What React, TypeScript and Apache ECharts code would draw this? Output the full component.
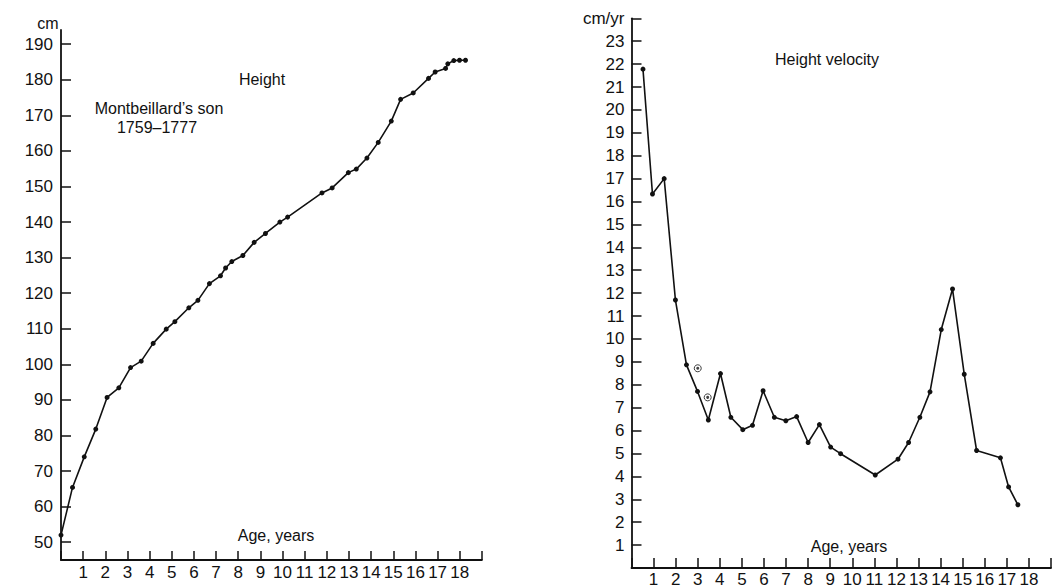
import React, { useEffect, useRef } from "react";
import * as echarts from "echarts";

const heightAges = [0, 0.52, 1.05, 1.57, 2.08, 2.61, 3.14, 3.62, 4.16, 4.75, 5.14, 5.77, 6.18, 6.7, 7.2, 7.43, 7.71, 8.21, 8.72, 9.23, 9.88, 10.23, 11.78, 12.24, 12.97, 13.33, 13.81, 14.32, 14.91, 15.33, 15.9, 16.59, 16.89, 17.36, 17.46, 17.73, 17.99, 18.26];
const heightValues = [52.0, 65.4, 74.0, 81.8, 90.7, 93.4, 99.1, 100.9, 105.9, 109.9, 112.0, 115.9, 118.0, 122.7, 124.9, 127.1, 128.9, 130.6, 134.3, 136.8, 140.0, 141.4, 148.2, 149.6, 153.9, 154.9, 158.0, 162.4, 168.4, 174.5, 176.3, 180.4, 182.2, 183.2, 184.5, 185.4, 185.5, 185.5];

const velocityAges = [0.52, 0.95, 1.48, 1.99, 2.49, 2.99, 3.48, 4.03, 4.5, 5.04, 5.48, 5.96, 6.47, 6.99, 7.48, 8.0, 8.51, 9.02, 9.47, 11.04, 12.07, 12.55, 13.06, 13.52, 14.03, 14.54, 15.07, 15.63, 16.71, 17.08, 17.5];
const velocityValues = [21.78, 16.33, 17.0, 11.7, 8.87, 7.71, 6.46, 8.49, 6.58, 6.04, 6.23, 7.74, 6.58, 6.43, 6.61, 5.48, 6.26, 5.28, 4.99, 4.06, 4.75, 5.48, 6.58, 7.69, 10.41, 12.18, 8.46, 5.13, 4.81, 3.54, 2.76];

const extraVelocityAges = [3.0, 3.45];
const extraVelocityValues = [8.72, 7.45];

const heightTicks = [50, 60, 70, 80, 90, 100, 110, 120, 130, 140, 150, 160, 170, 180, 190];

const FONT = "Liberation Sans, Arial, sans-serif";
const INK = "#111111";

export default function App() {
  const ref = useRef<HTMLDivElement>(null);
  useEffect(() => {
    if (!ref.current) return;
    const chart = echarts.init(ref.current, undefined, { renderer: "svg" });
    const axisLine = { show: true, onZero: false, lineStyle: { color: INK, width: 1.8 } };
    const labelStyle = { color: INK, fontSize: 17, fontFamily: FONT };
    const textStyle = (x: number, y: number, text: string, size = 15) => ({
      type: "text",
      x,
      y,
      style: { text, fill: INK, font: `${size}px ${FONT}`, textAlign: "center", textVerticalAlign: "middle" },
    });
    chart.setOption({
      animation: false,
      backgroundColor: "#ffffff",
      grid: [
        { left: 61, top: 30, width: 420.9, height: 530 },
        { left: 631.5, top: 18.3, width: 420, height: 553.2 },
      ],
      xAxis: [
        {
          gridIndex: 0, type: "value", min: 0, max: 19, interval: 1,
          axisLine,
          axisTick: { show: true, inside: true, length: 9, lineStyle: { color: INK, width: 1.5 } },
          axisLabel: { ...labelStyle, margin: 4, formatter: (v: number) => (v === 0 || v === 19 ? "" : String(v)) },
          splitLine: { show: false },
        },
        {
          gridIndex: 1, type: "value", min: 0, max: 19, interval: 1,
          axisLine,
          axisTick: { show: true, inside: true, length: 10, lineStyle: { color: INK, width: 1.5 } },
          axisLabel: { ...labelStyle, margin: 3, formatter: (v: number) => (v === 0 || v === 19 ? "" : String(v)) },
          splitLine: { show: false },
        },
      ],
      yAxis: [
        {
          gridIndex: 0, type: "value", min: 45, max: 194,
          axisLine,
          axisTick: { show: true, inside: true, length: 10, customValues: heightTicks, lineStyle: { color: INK, width: 1.5 } },
          axisLabel: { ...labelStyle, margin: 8, customValues: heightTicks },
          splitLine: { show: false },
        },
        {
          gridIndex: 1, type: "value", min: 0, max: 24, interval: 1,
          axisLine,
          axisTick: { show: true, inside: true, length: 10, lineStyle: { color: INK, width: 1.5 } },
          axisLabel: { ...labelStyle, margin: 7, formatter: (v: number) => (v === 0 ? "" : v === 24 ? "cm/yr" : String(v)) },
          splitLine: { show: false },
        },
      ],
      series: [
        {
          type: "line", xAxisIndex: 0, yAxisIndex: 0,
          data: heightAges.map((a, i) => [a, heightValues[i]]),
          symbol: "circle", symbolSize: 5, showAllSymbol: true,
          lineStyle: { color: INK, width: 1.6 }, itemStyle: { color: INK },
        },
        {
          type: "line", xAxisIndex: 1, yAxisIndex: 1,
          data: velocityAges.map((a, i) => [a, velocityValues[i]]),
          symbol: "circle", symbolSize: 5, showAllSymbol: true,
          lineStyle: { color: INK, width: 1.6 }, itemStyle: { color: INK },
        },
        {
          type: "scatter", xAxisIndex: 1, yAxisIndex: 1,
          data: extraVelocityAges.map((a, i) => [a, extraVelocityValues[i]]),
          symbol: "circle", symbolSize: 7,
          itemStyle: { color: "#ffffff", borderColor: INK, borderWidth: 1 }, z: 3,
        },
        {
          type: "scatter", xAxisIndex: 1, yAxisIndex: 1,
          data: extraVelocityAges.map((a, i) => [a, extraVelocityValues[i]]),
          symbol: "circle", symbolSize: 3,
          itemStyle: { color: INK }, z: 4,
        },
      ],
      graphic: [
        textStyle(48, 23, "cm", 16),
        textStyle(262, 79, "Height", 16),
        textStyle(159, 108, "Montbeillard’s son", 16),
        textStyle(157, 127, "1759–1777", 16),
        textStyle(276, 535, "Age, years", 16),
        textStyle(827, 59, "Height velocity", 16),
        textStyle(849, 546, "Age, years", 16),
      ],
    });
    return () => chart.dispose();
  }, []);
  return <div ref={ref} style={{ position: "fixed", left: 0, top: 0, width: 1054, height: 588 }} />;
}
